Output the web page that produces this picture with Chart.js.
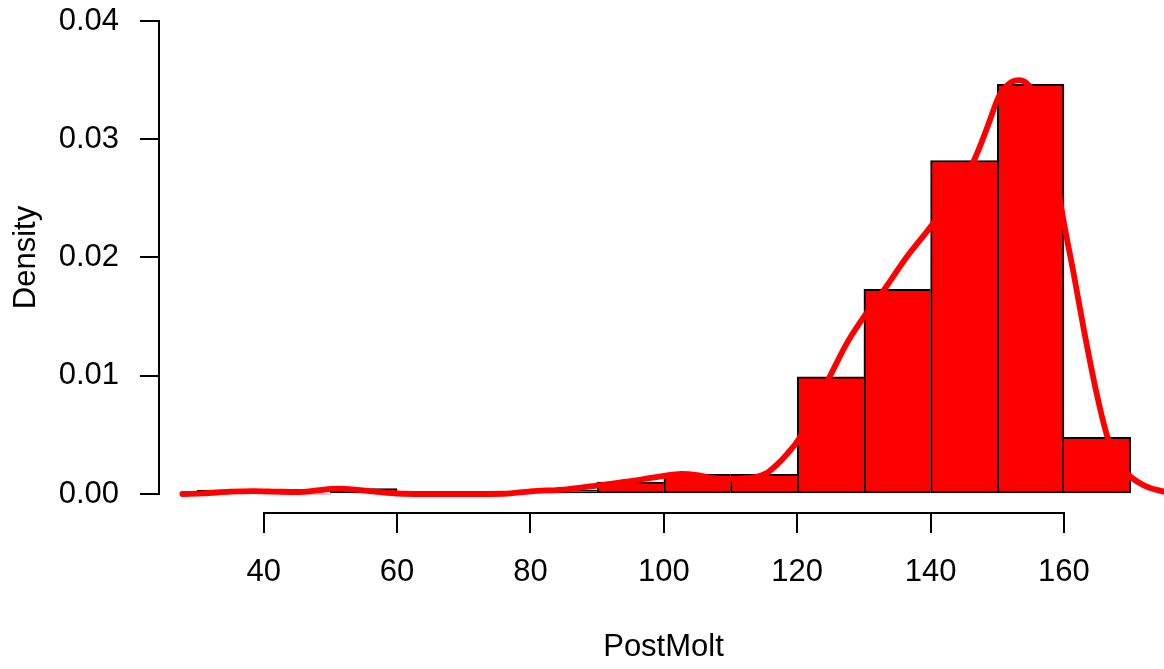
<!DOCTYPE html>
<html><head><meta charset="utf-8">
<script src="https://cdn.jsdelivr.net/npm/chart.js@4.4.1/dist/chart.umd.min.js"></script>
<style>
html,body{margin:0;padding:0;overflow:hidden;background:#fff;}
#wrap{position:relative;width:1168px;height:669px;}
</style></head><body>
<div id="wrap"><canvas id="c"></canvas></div>
<script>
// ---- data ----
const binStarts  = [30, 40, 50, 60, 70, 80, 90, 100, 110, 120, 130, 140, 150, 160];
const binWidth   = 10;
const binDensity = [0.0003, 0, 0.00045, 0, 0, 0.0003, 0.001, 0.00167, 0.00167, 0.0099, 0.0173, 0.0282, 0.03465, 0.0048];

const densX = [27.8, 31, 35, 38.5, 42, 45, 48, 51, 54, 56, 58.5, 61, 65, 70, 76, 80, 85.5, 90.5, 95.5, 99.5, 102.7, 105, 107.5, 110.5, 113.5, 115.5, 117, 118.5, 120.2, 122.5, 125, 127.5, 130.2, 133, 136.5, 140.2, 143.5, 146.5, 148.5, 150.3, 152, 153.3, 154.8, 156.5, 158.3, 160, 161.5, 162.9, 164.9, 166.5, 168.2, 170, 172.4, 174.9];
const densY = [0, 0.00006, 0.0002, 0.00025, 0.0002, 0.00017, 0.0003, 0.00045, 0.00035, 0.00023, 0.0001, 0.00002, 0, 0, 0.00002, 0.00023, 0.0004, 0.00076, 0.00113, 0.0015, 0.0017, 0.0016, 0.00135, 0.0013, 0.0014, 0.0018, 0.0025, 0.0034, 0.0046, 0.0073, 0.01006, 0.0128, 0.01514, 0.01725, 0.0201, 0.02275, 0.0255, 0.0282, 0.031, 0.0337, 0.0348, 0.035, 0.0345, 0.0325, 0.0285, 0.0229, 0.0185, 0.01415, 0.0085, 0.00485, 0.0026, 0.00146, 0.00062, 0.0002];

const xTicks = [40, 60, 80, 100, 120, 140, 160];
const yTicks = [0, 0.01, 0.02, 0.03, 0.04];
const xTitle = 'PostMolt';
const yTitle = 'Density';

// ---- chart ----
const FONT = 'Liberation Sans, Arial, Helvetica, sans-serif';
Chart.defaults.font.family = FONT;
Chart.defaults.color = '#000';

const axisLines = {
  id: 'axisLines',
  afterDraw(chart) {
    const {ctx, scales: {x, y}, chartArea} = chart;
    ctx.save();
    ctx.strokeStyle = '#000';
    ctx.lineWidth = 2;
    ctx.lineCap = 'square';
    ctx.beginPath();
    const yb = Math.round(chartArea.bottom);
    ctx.moveTo(Math.round(x.getPixelForValue(xTicks[0])), yb);
    ctx.lineTo(Math.round(x.getPixelForValue(xTicks[xTicks.length - 1])), yb);
    const xl = Math.round(chartArea.left);
    ctx.moveTo(xl, Math.round(y.getPixelForValue(yTicks[0])));
    ctx.lineTo(xl, Math.round(y.getPixelForValue(yTicks[yTicks.length - 1])));
    ctx.stroke();
    ctx.restore();
  }
};

new Chart(document.getElementById('c'), {
  type: 'bar',
  data: {
    datasets: [
      {
        type: 'line',
        order: 0,
        data: densX.map((v, i) => ({x: v, y: densY[i]})),
        borderColor: '#FF0000',
        borderWidth: 5.8,
        pointRadius: 0,
        fill: false,
        cubicInterpolationMode: 'monotone',
        borderCapStyle: 'round',
        borderJoinStyle: 'round'
      },
      {
        type: 'bar',
        order: 1,
        data: binStarts.map((s, i) => ({x: s + binWidth / 2, y: binDensity[i]})),
        backgroundColor: '#FF0000',
        borderColor: '#000',
        borderSkipped: false,
        borderWidth: (ctx) => {
          const i = ctx.dataIndex, h = binDensity;
          const left = (i === 0 || h[i - 1] <= h[i]) ? 2 : 0;
          const right = (i === h.length - 1 || h[i] > h[i + 1]) ? 2 : 0;
          return {top: 2, bottom: 2, left, right};
        },
        barPercentage: 1,
        categoryPercentage: 1
      }
    ]
  },
  options: {
    responsive: true,
    maintainAspectRatio: false,
    animation: false,
    layout: {padding: {top: 2.08, left: 0, right: 0, bottom: 0}},
    plugins: {legend: {display: false}, tooltip: {enabled: false}},
    scales: {
      x: {
        type: 'linear',
        offset: false,
        min: 24.3,
        max: 175.6,
        afterFit: (s) => { s.height = 669 - 512.92; s.paddingLeft = 0; s.paddingRight = 0; s.paddingTop = 0; s.paddingBottom = 0; },
        afterBuildTicks: (s) => { s.ticks = xTicks.map(v => ({value: v})); },
        grid: {display: true, drawOnChartArea: false, drawTicks: true, tickLength: 20, tickWidth: 2, tickColor: '#000', lineWidth: 2, color: '#000', offset: false},
        border: {display: false},
        ticks: {autoSkip: false, maxRotation: 0, minRotation: 0, padding: 20.5, color: '#000', font: {size: 31, family: FONT}, callback: (v) => String(v)},
        title: {display: true, text: xTitle, color: '#000', font: {size: 31, family: FONT}, padding: {top: 0, bottom: 2.8}}
      },
      y: {
        type: 'linear',
        min: -0.0016,
        max: 0.0416,
        afterFit: (s) => { s.width = 159; s.paddingLeft = 0; s.paddingRight = 0; s.paddingTop = 0; s.paddingBottom = 0; },
        afterBuildTicks: (s) => { s.ticks = yTicks.map(v => ({value: v})); },
        grid: {display: true, drawOnChartArea: false, drawTicks: true, tickLength: 19, tickWidth: 2, tickColor: '#000', lineWidth: 2, color: '#000'},
        border: {display: false},
        ticks: {autoSkip: false, padding: 21, color: '#000', font: {size: 31, family: FONT}, callback: (v) => Number(v).toFixed(2)},
        title: {display: true, text: yTitle, color: '#000', font: {size: 31, family: FONT}, padding: {top: 7.4, bottom: 0}}
      }
    }
  },
  plugins: [axisLines]
});
</script>
</body></html>
